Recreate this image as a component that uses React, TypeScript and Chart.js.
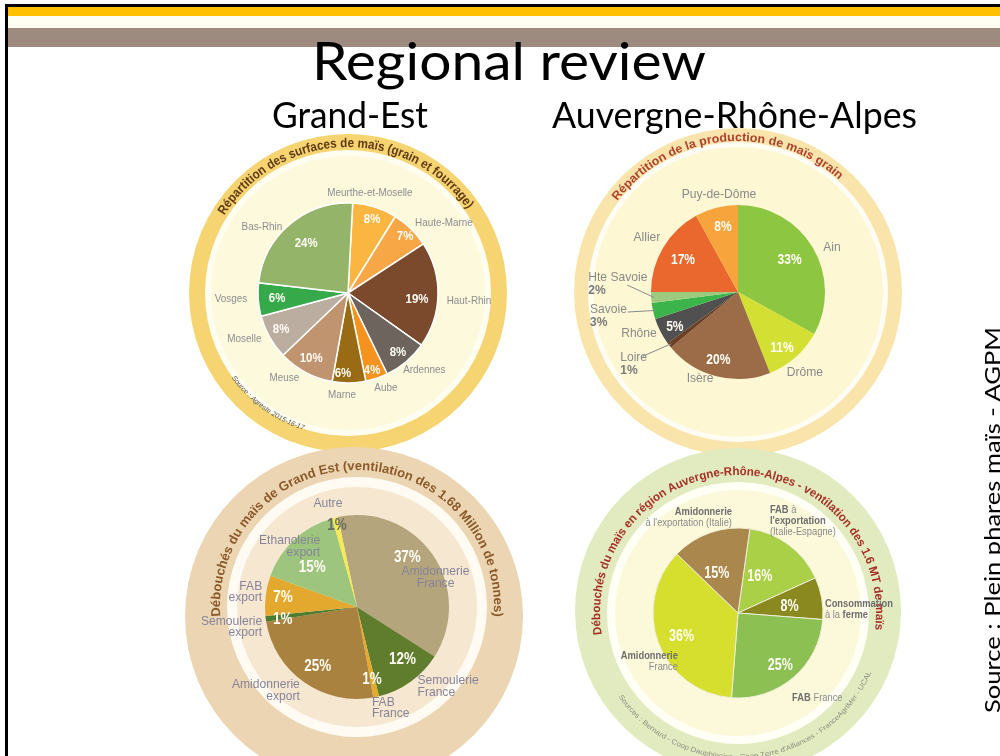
import React, { useEffect, useRef } from 'react';
import { Chart, registerables } from 'chart.js';

Chart.register(...registerables);

// ================= DATA =================
const slideTitle = 'Regional review';
const leftHeading = 'Grand-Est';
const rightHeading = 'Auvergne-Rhône-Alpes';
const sideSource = 'Source : Plein phares maïs - AGPM';

// Grand-Est : répartition des surfaces de maïs
const geSurfaceTitle = 'Répartition des surfaces de maïs (grain et fourrage)';
const geSurfaceSource = 'Source : Agreste 2015-16-17';
const geSurfaceCategories = ['Meurthe-et-Moselle', 'Haute-Marne', 'Haut-Rhin', 'Ardennes', 'Aube', 'Marne', 'Meuse', 'Moselle', 'Vosges', 'Bas-Rhin'];
const geSurfaceValues = [8, 7, 19, 8, 4, 6, 10, 8, 6, 24];

// Auvergne-Rhône-Alpes : répartition de la production de maïs grain
const araProdTitle = 'Répartition de la production de maïs grain';
const araProdCategories = ['Ain', 'Drôme', 'Isère', 'Loire', 'Rhône', 'Savoie', 'Hte Savoie', 'Allier', 'Puy-de-Dôme'];
const araProdValues = [33, 11, 20, 1, 5, 3, 2, 17, 8];

// Grand-Est : débouchés
const geOutletTitle = 'Débouchés du maïs de Grand Est (ventilation des 1.68 Million de tonnes)';
const geOutletCategories = ['Amidonnerie\nFrance', 'Semoulerie\nFrance', 'FAB\nFrance', 'Amidonnerie\nexport', 'Semoulerie\nexport', 'FAB\nexport', 'Ethanolerie\nexport', 'Autre'];
const geOutletValues = [37, 12, 1, 25, 1, 7, 15, 1];

// Auvergne-Rhône-Alpes : débouchés
const araOutletTitle = 'Débouchés du maïs en région Auvergne-Rhône-Alpes - ventilation des 1.6 MT de maïs';
const araOutletSource = "Sources : Bernard - Coop Dauphinoise - Coop Terre d'Alliances - FranceAgriMer - UCAL";
const araOutletCategories = ["*FAB* à\n*l'exportation*\n(Italie-Espagne)", '*Consommation*\nà la *ferme*', '*FAB* France', '*Amidonnerie*\nFrance', "*Amidonnerie*\nà l'exportation (Italie)"];
const araOutletValues = [16, 8, 25, 36, 15];

// ================= STYLE / LAYOUT =================
const LF = '"Liberation Sans", Arial, sans-serif';

type NamePos = { da: number; r: number; align: 'left' | 'right' | 'center'; withPct?: boolean; leader?: { da: number; r: number } };
type PctPos = { f: number; da: number; color?: string } | null;
type Ring = { r: number; color: string; dx?: number; dy?: number };
type ArcTxt = { text: string; r: number; start: number; end: number; font: string; color: string };

interface PieSpec {
  id: string;
  box: { left: number; top: number; width: number; height: number };
  center: [number, number];
  radius: number;
  rotation: number;
  categories: string[];
  values: number[];
  colors: string[];
  borderColor: string;
  borderWidth: number;
  rings: Ring[];
  arcTexts: ArcTxt[];
  names: NamePos[];
  nameFont: { size: number; sx: number; color: string; boldColor: string; lh: number };
  pcts: PctPos[];
  pctFont: { size: number; sx: number; color: string };
}

const pies: PieSpec[] = [
  {
    id: 'geSurface',
    box: { left: 170, top: 118, width: 360, height: 337 },
    center: [348, 293],
    radius: 90,
    rotation: 3,
    categories: geSurfaceCategories,
    values: geSurfaceValues,
    colors: ['#fbb641', '#f8a747', '#7b4a2c', '#6d645d', '#f6921e', '#986b14', '#c0946f', '#bbad9f', '#36a94b', '#93b469'],
    borderColor: '#ffffff',
    borderWidth: 1.5,
    rings: [
      { r: 159, color: '#f6d471' },
      { r: 143, color: '#fffdf0' },
      { r: 137, color: '#fcf9dd' },
    ],
    arcTexts: [
      { text: geSurfaceTitle, r: 146, start: -58, end: 55, font: `bold 13px ${LF}`, color: '#5f3a14' },
      { text: geSurfaceSource, r: 144, start: 234, end: 198, font: `italic 7px ${LF}`, color: '#555555' },
    ],
    names: [
      { da: -5, r: 102, align: 'center' },
      { da: -0.7, r: 97, align: 'left' },
      { da: 3.4, r: 99, align: 'left' },
      { da: 4.7, r: 95, align: 'left' },
      { da: -3.2, r: 102, align: 'center' },
      { da: 4, r: 102, align: 'center' },
      { da: 1.7, r: 98, align: 'right' },
      { da: 1.5, r: 98, align: 'right' },
      { da: 0.8, r: 101, align: 'right' },
      { da: -4.8, r: 93, align: 'right' },
    ],
    nameFont: { size: 11, sx: 0.9, color: '#8d8d8d', boldColor: '#7a7a7a', lh: 12 },
    pcts: [
      { f: 0.855, da: 0.8 }, { f: 0.89, da: 1 }, { f: 0.77, da: 3.8 }, { f: 0.86, da: 0 }, { f: 0.9, da: 1.3 },
      { f: 0.89, da: 4.2 }, { f: 0.83, da: 1.4 }, { f: 0.845, da: 1.1 }, { f: 0.79, da: 0.2 }, { f: 0.72, da: 0 },
    ],
    pctFont: { size: 13, sx: 0.88, color: '#fffdf5' },
  },
  {
    id: 'araProd',
    box: { left: 555, top: 112, width: 370, height: 343 },
    center: [738, 292],
    radius: 87,
    rotation: 0,
    categories: araProdCategories,
    values: araProdValues,
    colors: ['#8dc641', '#d4df33', '#9c6c48', '#6c3f28', '#505050', '#3bb54b', '#9ccb80', '#ea682d', '#f8a43c'],
    borderColor: '#ffffff',
    borderWidth: 0,
    rings: [
      { r: 164, color: '#f9e5ab' },
      { r: 150, color: '#fffdf3' },
      { r: 145, color: '#fdf7d4' },
    ],
    arcTexts: [
      { text: araProdTitle, r: 151, start: -53, end: 42, font: `bold 12px ${LF}`, color: '#b0402e' },
    ],
    names: [
      { da: 3.2, r: 96, align: 'left' },
      { da: 1.8, r: 105, align: 'center' },
      { da: 9.4, r: 94, align: 'center' },
      { da: 6.4, r: 138, align: 'left', withPct: true, leader: { da: 3.8, r: 115 } },
      { da: 0.2, r: 91, align: 'right' },
      { da: 3.4, r: 150, align: 'left', withPct: true, leader: { da: 2.3, r: 112 } },
      { da: 6.8, r: 150, align: 'left', withPct: true, leader: { da: 7.2, r: 111 } },
      { da: 4.6, r: 95, align: 'right' },
      { da: 3.3, r: 99, align: 'center' },
    ],
    nameFont: { size: 13, sx: 0.93, color: '#8a8a8a', boldColor: '#7a7a7a', lh: 13 },
    pcts: [
      { f: 0.7, da: -1.4 }, { f: 0.82, da: 3.4 }, { f: 0.82, da: 1.6 }, null, { f: 0.83, da: -2 },
      null, null, { f: 0.73, da: -0.6 }, { f: 0.77, da: 1.4 },
    ],
    pctFont: { size: 14, sx: 0.86, color: '#fffdf5' },
  },
  {
    id: 'geOutlet',
    box: { left: 165, top: 430, width: 390, height: 326 },
    center: [357, 607],
    radius: 92,
    rotation: -12,
    categories: geOutletCategories,
    values: geOutletValues,
    colors: ['#b4a57d', '#5f7d2d', '#e5ab2d', '#a9823f', '#4d7b2f', '#e3a92f', '#9dc57d', '#f4ea57'],
    borderColor: '#ffffff',
    borderWidth: 0,
    rings: [
      { r: 169, color: '#ecd5b2', dx: -3, dy: 9 },
      { r: 130, color: '#fffbf3' },
      { r: 120, color: '#f6e7d1' },
    ],
    arcTexts: [
      { text: geOutletTitle, r: 137, start: -94, end: 94, font: `bold 13px ${LF}`, color: '#8b5a2a' },
    ],
    names: [
      { da: 14, r: 84, align: 'center' },
      { da: -1.6, r: 100, align: 'left' },
      { da: 3.6, r: 102, align: 'left' },
      { da: -0.8, r: 101, align: 'right' },
      { da: -4.5, r: 97, align: 'right' },
      { da: 2, r: 96, align: 'right' },
      { da: 11.7, r: 71, align: 'right' },
      { da: -1.8, r: 108, align: 'center' },
    ],
    nameFont: { size: 13, sx: 0.93, color: '#87849a', boldColor: '#75728a', lh: 11.5 },
    pcts: [
      { f: 0.77, da: -10 }, { f: 0.76, da: -5 }, { f: 0.81, da: 0.4 }, { f: 0.78, da: -2 },
      { f: 0.82, da: -2.5 }, { f: 0.81, da: 0 }, { f: 0.65, da: -5.5 }, { f: 0.91, da: 0, color: '#6d6a60' },
    ],
    pctFont: { size: 16, sx: 0.84, color: '#fffdf5' },
  },
  {
    id: 'araOutlet',
    box: { left: 555, top: 430, width: 370, height: 326 },
    center: [738, 613],
    radius: 85,
    rotation: 8,
    categories: araOutletCategories,
    values: araOutletValues,
    colors: ['#a9d047', '#8a8920', '#8dc053', '#d6de2e', '#a9874d'],
    borderColor: '#eeeed8',
    borderWidth: 1,
    rings: [
      { r: 163, color: '#e2ebbf', dy: -2 },
      { r: 131, color: '#fffff5' },
      { r: 123, color: '#fcf9da' },
    ],
    arcTexts: [
      { text: araOutletTitle, r: 138, start: -99, end: 97, font: `bold 12px ${LF}`, color: '#a63129' },
      { text: araOutletSource, r: 146, start: 235, end: 114, font: `7px ${LF}`, color: '#8e8e80' },
    ],
    names: [
      { da: -17.6, r: 97, align: 'left' },
      { da: 7.4, r: 87, align: 'left' },
      { da: 8.2, r: 101, align: 'left' },
      { da: -17.9, r: 77, align: 'right' },
      { da: 15.4, r: 96, align: 'right' },
    ],
    nameFont: { size: 11, sx: 0.85, color: '#8a8a8a', boldColor: '#6e6e6e', lh: 11 },
    pcts: [
      { f: 0.5, da: -6 }, { f: 0.61, da: 3 }, { f: 0.79, da: 1.6 }, { f: 0.72, da: -2 }, { f: 0.53, da: -9 },
    ],
    pctFont: { size: 16, sx: 0.78, color: '#fffdf5' },
  },
];

// ================= DRAW HELPERS =================
const DEG = Math.PI / 180;

function drawRichLine(
  ctx: CanvasRenderingContext2D, line: string, x: number, y: number, align: string,
  size: number, sx: number, color: string, boldColor: string, allBold: boolean,
) {
  const parts = line.split('*').map((s, i) => ({ s, bold: allBold || i % 2 === 1, w: 0 })).filter(p => p.s.length > 0);
  let total = 0;
  for (const p of parts) {
    ctx.font = `${p.bold ? 'bold ' : ''}${size}px ${LF}`;
    p.w = ctx.measureText(p.s).width * sx;
    total += p.w;
  }
  let xs = align === 'left' ? x : align === 'right' ? x - total : x - total / 2;
  for (const p of parts) {
    ctx.save();
    ctx.translate(xs, y);
    ctx.scale(sx, 1);
    ctx.font = `${p.bold ? 'bold ' : ''}${size}px ${LF}`;
    ctx.fillStyle = p.bold && !allBold ? boldColor : color;
    ctx.textAlign = 'left';
    ctx.textBaseline = 'middle';
    ctx.fillText(p.s, 0, 0);
    ctx.restore();
    xs += p.w;
  }
}

function drawArcText(ctx: CanvasRenderingContext2D, t: ArcTxt, cx: number, cy: number) {
  ctx.save();
  ctx.font = t.font;
  ctx.fillStyle = t.color;
  ctx.textAlign = 'center';
  ctx.textBaseline = 'alphabetic';
  const chars = Array.from(t.text);
  const widths = chars.map(c => ctx.measureText(c).width);
  const total = widths.reduce((a, b) => a + b, 0);
  const span = Math.abs(t.end - t.start) * DEG;
  const s = (span * t.r) / total;
  const dir = t.end >= t.start ? 1 : -1;
  const a0 = t.start * DEG;
  let acc = 0;
  chars.forEach((c, i) => {
    const w = widths[i] * s;
    const a = a0 + (dir * (acc + w / 2)) / t.r;
    acc += w;
    const x = cx + t.r * Math.sin(a);
    const y = cy - t.r * Math.cos(a);
    ctx.save();
    ctx.translate(x, y);
    ctx.rotate(dir > 0 ? a : a - Math.PI);
    ctx.scale(s, 1);
    ctx.fillText(c, 0, 0);
    ctx.restore();
  });
  ctx.restore();
}

function decorPlugin(spec: PieSpec) {
  return {
    id: 'decor_' + spec.id,
    beforeDraw(chart: any) {
      const ctx: CanvasRenderingContext2D = chart.ctx;
      const { left, right, top, bottom } = chart.chartArea;
      const cx = (left + right) / 2;
      const cy = (top + bottom) / 2;
      ctx.save();
      for (const ring of spec.rings) {
        ctx.beginPath();
        ctx.arc(cx + (ring.dx || 0), cy + (ring.dy || 0), ring.r, 0, Math.PI * 2);
        ctx.fillStyle = ring.color;
        ctx.fill();
      }
      ctx.restore();
      for (const t of spec.arcTexts) drawArcText(ctx, t, cx, cy);
    },
    afterDatasetsDraw(chart: any) {
      const ctx: CanvasRenderingContext2D = chart.ctx;
      const arcs = chart.getDatasetMeta(0).data as any[];
      const nf = spec.nameFont;
      const pf = spec.pctFont;
      arcs.forEach((arc, i) => {
        const cx = arc.x;
        const cy = arc.y;
        const R = arc.outerRadius;
        const mid = (arc.startAngle + arc.endAngle) / 2;
        const value = spec.values[i];
        // percentage inside the slice
        const pp = spec.pcts[i];
        if (pp) {
          const a = mid + pp.da * DEG;
          drawRichLine(ctx, `${value}%`, cx + pp.f * R * Math.cos(a), cy + pp.f * R * Math.sin(a), 'center', pf.size, pf.sx, pp.color || pf.color, pp.color || pf.color, true);
        }
        // category label
        const np = spec.names[i];
        if (np) {
          const a = mid + np.da * DEG;
          const ax = cx + np.r * Math.cos(a);
          const ay = cy + np.r * Math.sin(a);
          const lines = spec.categories[i].split('\n');
          if (np.withPct) lines.push(`*${value}%*`);
          const y0 = ay - ((lines.length - 1) * nf.lh) / 2;
          lines.forEach((ln, k) => drawRichLine(ctx, ln, ax, y0 + k * nf.lh, np.align, nf.size, nf.sx, nf.color, nf.boldColor, false));
          if (np.leader) {
            const la = mid + np.leader.da * DEG;
            ctx.save();
            ctx.strokeStyle = '#8a8a8a';
            ctx.lineWidth = 1;
            ctx.beginPath();
            ctx.moveTo(cx + np.leader.r * Math.cos(la), cy + np.leader.r * Math.sin(la));
            ctx.lineTo(cx + R * 0.97 * Math.cos(mid), cy + R * 0.97 * Math.sin(mid));
            ctx.stroke();
            ctx.restore();
          }
        }
      });
    },
  };
}

function PieChart({ spec }: { spec: PieSpec }) {
  const ref = useRef<HTMLCanvasElement>(null);
  useEffect(() => {
    const canvas = ref.current;
    if (!canvas) return;
    const { left, top, width, height } = spec.box;
    const cx = spec.center[0] - left;
    const cy = spec.center[1] - top;
    const R = spec.radius;
    const chart = new Chart(canvas, {
      type: 'pie',
      data: {
        labels: spec.categories.map(c => c.replace(/\*/g, '').replace(/\n/g, ' ')),
        datasets: [{
          data: spec.values,
          backgroundColor: spec.colors,
          borderColor: spec.borderColor,
          borderWidth: spec.borderWidth,
        }],
      },
      options: {
        responsive: false,
        animation: false,
        events: [],
        rotation: spec.rotation,
        radius: R,
        layout: { padding: { left: cx - R, right: width - cx - R, top: cy - R, bottom: height - cy - R } },
        plugins: { legend: { display: false }, tooltip: { enabled: false } },
      } as any,
      plugins: [decorPlugin(spec)],
    });
    return () => chart.destroy();
  }, [spec]);
  return (
    <canvas
      ref={ref}
      width={spec.box.width}
      height={spec.box.height}
      style={{ position: 'absolute', left: spec.box.left, top: spec.box.top, width: spec.box.width, height: spec.box.height }}
    />
  );
}

export default function App() {
  return (
    <div style={{ position: 'fixed', left: 0, top: 0, width: 1000, height: 756, background: '#ffffff', overflow: 'hidden' }}>
      {pies.map(p => <PieChart key={p.id} spec={p} />)}
      <svg width={1000} height={756} style={{ position: 'absolute', left: 0, top: 0, pointerEvents: 'none' }}>
        <rect x={5} y={4} width={995} height={3} fill="#000000" />
        <rect x={5} y={4} width={3} height={752} fill="#000000" />
        <rect x={8} y={7} width={992} height={9} fill="#ffc000" />
        <rect x={8} y={16} width={992} height={12} fill="#fffef3" />
        <rect x={8} y={28} width={992} height={19} fill="#9e8b80" />
        <text x={312} y={80} fontFamily="Lato, sans-serif" fontSize={53} fill="#000" textLength={394} lengthAdjust="spacingAndGlyphs">{slideTitle}</text>
        <text x={272} y={128} fontFamily="Lato, sans-serif" fontSize={36} fill="#000" textLength={156} lengthAdjust="spacingAndGlyphs">{leftHeading}</text>
        <text x={552} y={128} fontFamily="Lato, sans-serif" fontSize={36} fill="#000" textLength={365} lengthAdjust="spacingAndGlyphs">{rightHeading}</text>
        <text transform="translate(1000,713) rotate(-90)" x={0} y={0} fontFamily="Lato, sans-serif" fontSize={21} fill="#000" textLength={386} lengthAdjust="spacingAndGlyphs">{sideSource}</text>
      </svg>
    </div>
  );
}
